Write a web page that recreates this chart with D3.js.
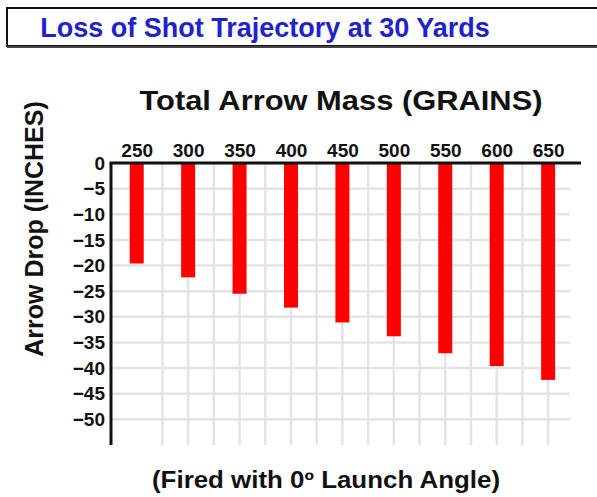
<!DOCTYPE html>
<html>
<head>
<meta charset="utf-8">
<script src="https://cdn.jsdelivr.net/npm/d3@7"></script>
<style>
  body { margin: 0; background: #fff; }
  text { font-family: "Liberation Sans", Arial, sans-serif; font-weight: bold; }
</style>
</head>
<body>
<script>
// data
var grains = [250, 300, 350, 400, 450, 500, 550, 600, 650];
var drop = [-19.6, -22.3, -25.5, -28.2, -31.1, -33.8, -37.1, -39.6, -42.3];
var yTicks = [0, -5, -10, -15, -20, -25, -30, -35, -40, -45, -50];
var gridX = [275, 300, 325, 350, 375, 400, 425, 450, 475, 500, 525, 550, 575, 600, 625, 650];

var svgWidth = 597, svgHeight = 497;

var svg = d3.select('body').append('svg')
    .attr('width', svgWidth).attr('height', svgHeight);

// title box
svg.append('rect')
    .attr('x', 7).attr('y', 8).attr('width', 600).attr('height', 38)
    .attr('fill', 'white').attr('stroke', '#111').attr('stroke-width', 2);
svg.append('line')
    .attr('x1', 7).attr('x2', 597).attr('y1', 47).attr('y2', 47)
    .attr('stroke', '#444').attr('stroke-width', 2);
svg.append('text')
    .attr('x', 265).attr('y', 37)
    .attr('text-anchor', 'middle')
    .attr('font-size', 27)
    .attr('fill', '#2222cc')
    .text('Loss of Shot Trajectory at 30 Yards');

// scales
var xScale = d3.scaleLinear().domain([225, 681]).range([111, 580]);
var yScale = d3.scaleLinear().domain([0, -55]).range([163, 445]);

var chartGroup = svg.append('g');

// grid
chartGroup.append('g').selectAll('line.h')
    .data(yTicks.filter(d => d < 0))
    .enter().append('line')
    .attr('x1', xScale(225)).attr('x2', 570)
    .attr('y1', d => yScale(d)).attr('y2', d => yScale(d))
    .attr('stroke', '#e4e4e4').attr('stroke-width', 2.5);

chartGroup.append('g').selectAll('line.v')
    .data(gridX)
    .enter().append('line')
    .attr('x1', d => xScale(d)).attr('x2', d => xScale(d))
    .attr('y1', yScale(0)).attr('y2', yScale(-55))
    .attr('stroke', '#e4e4e4').attr('stroke-width', 2.5);

// bars
var barW = 14;
chartGroup.append('g').selectAll('rect')
    .data(grains)
    .enter().append('rect')
    .attr('x', (d) => xScale(d) - barW / 2)
    .attr('y', yScale(0))
    .attr('width', barW)
    .attr('height', (d, i) => yScale(drop[i]) - yScale(0))
    .attr('fill', '#ff0000');

// axes
var topAxis = d3.axisTop(xScale).tickValues(grains).tickSize(0).tickPadding(6);
var leftAxis = d3.axisLeft(yScale).tickValues(yTicks).tickSize(0).tickPadding(6);

var xAxisG = chartGroup.append('g')
    .attr('transform', `translate(0,${yScale(0)})`)
    .call(topAxis);
xAxisG.select('.domain').remove();
xAxisG.selectAll('text').attr('font-size', 19).attr('fill', '#111')
    .attr('font-family', '"Liberation Sans", Arial, sans-serif');

var yAxisG = chartGroup.append('g')
    .attr('transform', `translate(${xScale(225)},0)`)
    .call(leftAxis);
yAxisG.select('.domain').remove();
yAxisG.selectAll('text').attr('font-size', 19).attr('fill', '#111')
    .attr('font-family', '"Liberation Sans", Arial, sans-serif');

chartGroup.append('line')
    .attr('x1', xScale(225) - 1.5).attr('x2', 581)
    .attr('y1', yScale(0)).attr('y2', yScale(0))
    .attr('stroke', '#111').attr('stroke-width', 3);
chartGroup.append('line')
    .attr('x1', xScale(225)).attr('x2', xScale(225))
    .attr('y1', yScale(0)).attr('y2', yScale(-55))
    .attr('stroke', '#111').attr('stroke-width', 3);

// labels
svg.append('text')
    .attr('x', 341).attr('y', 110)
    .attr('text-anchor', 'middle')
    .attr('font-size', 28).attr('fill', '#111')
    .attr('textLength', 403).attr('lengthAdjust', 'spacingAndGlyphs')
    .text('Total Arrow Mass (GRAINS)');

svg.append('text')
    .attr('transform', 'translate(43,229) rotate(-90)')
    .attr('text-anchor', 'middle')
    .attr('font-size', 25).attr('fill', '#111')
    .text('Arrow Drop (INCHES)');

svg.append('text')
    .attr('x', 326).attr('y', 488)
    .attr('text-anchor', 'middle')
    .attr('font-size', 23).attr('fill', '#111')
    .attr('textLength', 348).attr('lengthAdjust', 'spacingAndGlyphs')
    .text('(Fired with 0º Launch Angle)');
</script>
</body>
</html>
